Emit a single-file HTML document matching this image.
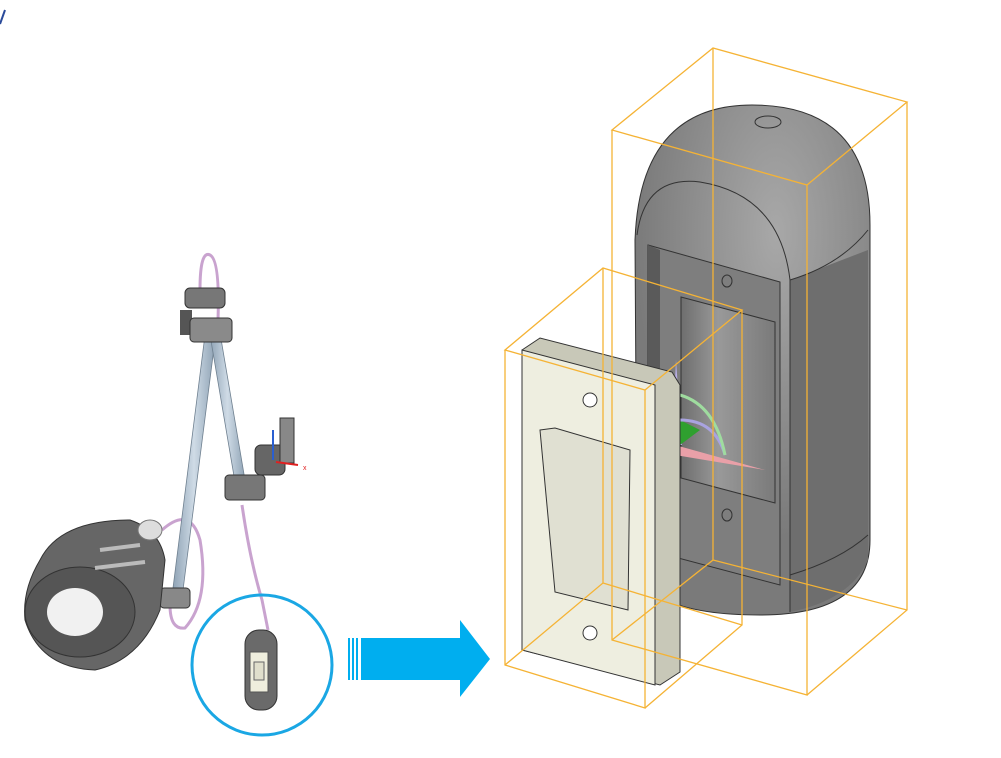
<!DOCTYPE html>
<html><head><meta charset="utf-8"><style>html,body{margin:0;padding:0;background:#fff;width:1001px;height:758px;overflow:hidden}</style></head>
<body>
<svg width="1001" height="758" viewBox="0 0 1001 758" xmlns="http://www.w3.org/2000/svg">
<defs>
<radialGradient id="top" cx="0.6" cy="0.25" r="0.6"><stop offset="0" stop-color="#a8a8a8"/><stop offset="1" stop-color="#7a7a7a"/></radialGradient>
<linearGradient id="win" x1="0" x2="1"><stop offset="0" stop-color="#6e6e6e"/><stop offset="0.4" stop-color="#999"/><stop offset="1" stop-color="#7a7a7a"/></linearGradient>
<linearGradient id="rod" x1="0" x2="1"><stop offset="0" stop-color="#8fa3b5"/><stop offset="0.5" stop-color="#cfdbe6"/><stop offset="1" stop-color="#8fa3b5"/></linearGradient>
</defs>
<path d="M0 24 L5 10" stroke="#2a4a9a" stroke-width="2"/>
<!-- lamp cables -->
<path d="M200 290 Q200 250 210 255 Q220 260 218 320" stroke="#c9a3cf" stroke-width="3" fill="none"/>
<path d="M242 505 Q250 560 262 600 L268 630" stroke="#c9a3cf" stroke-width="3" fill="none"/>
<path d="M162 530 Q190 505 200 540 Q210 600 185 628 Q170 630 170 605" stroke="#c9a3cf" stroke-width="3" fill="none"/>
<!-- rods -->
<path d="M205 335 L215 340 L183 590 L173 588 Z" fill="url(#rod)" stroke="#6f8090" stroke-width="0.8"/>
<path d="M210 335 L220 333 L245 480 L235 482 Z" fill="url(#rod)" stroke="#6f8090" stroke-width="0.8"/>
<!-- clamps -->
<rect x="185" y="288" width="40" height="20" rx="5" fill="#777" stroke="#333"/>
<rect x="180" y="310" width="12" height="25" fill="#555"/>
<rect x="190" y="318" width="42" height="24" rx="4" fill="#8a8a8a" stroke="#333"/>
<rect x="225" y="475" width="40" height="25" rx="4" fill="#777" stroke="#333"/>
<rect x="255" y="445" width="30" height="30" rx="6" fill="#666" stroke="#333"/>
<rect x="280" y="418" width="14" height="45" fill="#888" stroke="#333"/>
<line x1="273" y1="430" x2="273" y2="460" stroke="#2a5fd0" stroke-width="2"/>
<line x1="276" y1="462" x2="298" y2="465" stroke="#e02020" stroke-width="2"/>
<text x="303" y="470" font-family="Liberation Sans,sans-serif" font-size="7" fill="#e02020">x</text>
<rect x="160" y="588" width="30" height="20" rx="4" fill="#888" stroke="#333"/>
<!-- lamp shade -->
<path d="M40 560 Q60 520 130 520 Q160 530 165 560 L160 610 Q140 660 95 670 Q40 668 25 620 Q22 590 40 560 Z" fill="#666" stroke="#333"/>
<ellipse cx="80" cy="612" rx="55" ry="45" fill="#555" stroke="#333"/>
<ellipse cx="75" cy="612" rx="28" ry="24" fill="#f1f1f1"/>
<ellipse cx="150" cy="530" rx="12" ry="10" fill="#ddd" stroke="#777"/>
<path d="M100 550 L140 545 M95 568 L145 562" stroke="#bbb" stroke-width="4"/>
<!-- circle -->
<circle cx="262" cy="665" r="70" fill="none" stroke="#1aa7e4" stroke-width="3"/>
<rect x="245" y="630" width="32" height="80" rx="14" fill="#6a6a6a" stroke="#333"/>
<rect x="250" y="652" width="18" height="40" fill="#efeedd" stroke="#555"/>
<rect x="254" y="662" width="10" height="18" fill="#e0dfcc" stroke="#666"/>
<!-- arrow -->
<rect x="348" y="638" width="2" height="42" fill="#00aeef"/>
<rect x="352" y="638" width="2" height="42" fill="#00aeef"/>
<rect x="356" y="638" width="2" height="42" fill="#00aeef"/>
<path d="M361 638 L460 638 L460 620 L490 659 L460 697 L460 680 L361 680 Z" fill="#00aeef"/>
<!-- capsule -->
<path d="M635 240 Q640 105 752 105 Q870 105 870 225 L870 540 Q870 615 760 615 Q640 615 637 560 Z" fill="url(#top)" stroke="#333"/>
<path d="M790 280 L868 250 L868 560 Q850 600 790 612 Z" fill="#6e6e6e"/>
<path d="M637 235 Q645 175 700 182 Q780 195 790 280 L790 612" fill="none" stroke="#333" stroke-width="1"/>
<path d="M790 280 Q840 265 868 230" fill="none" stroke="#333"/>
<path d="M790 575 Q840 560 868 535" fill="none" stroke="#333"/>
<path d="M648 245 L780 282 L780 585 L648 550 Z" fill="#7e7e7e" stroke="#333"/>
<path d="M648 245 L660 250 L660 560 L648 555 Z" fill="#5a5a5a"/>
<path d="M681 297 L775 322 L775 503 L681 478 Z" fill="url(#win)" stroke="#333"/>
<ellipse cx="727" cy="281" rx="5" ry="6" fill="none" stroke="#333"/>
<ellipse cx="727" cy="515" rx="5" ry="6" fill="none" stroke="#333"/>
<ellipse cx="768" cy="122" rx="13" ry="6" fill="none" stroke="#333"/>
<!-- manipulator -->
<path d="M675 445 L765 470 L675 455 Z" fill="#e9a0a8"/>
<path d="M676 360 L682 445 L672 445 Z" fill="#b8aee6"/>
<path d="M680 420 L700 430 L680 445 Z" fill="#2fa02f"/>
<path d="M680 420 Q715 420 725 455" stroke="#a9a3e0" stroke-width="3" fill="none"/>
<path d="M680 395 Q715 405 725 455" stroke="#9fdc9f" stroke-width="3" fill="none"/>
<!-- switch plate -->
<path d="M522 350 L540 338 L672 372 L680 385 L680 672 L660 685 L522 650 Z" fill="#c8c8b8" stroke="#333"/>
<path d="M522 350 L655 385 L655 685 L522 650 Z" fill="#eeeee0" stroke="#333"/>
<path d="M540 430 L555 428 L630 450 L628 610 L555 592 Z" fill="#e0e0d2" stroke="#333"/>
<circle cx="590" cy="400" r="7" fill="#fff" stroke="#333"/>
<circle cx="590" cy="633" r="7" fill="#fff" stroke="#333"/>
<!-- orange boxes -->
<g stroke="#f5b335" stroke-width="1.3" fill="none">
<path d="M612 130 L713 48 L907 102 L807 185 Z"/>
<path d="M612 130 L612 640 L807 695 L807 185"/>
<path d="M907 102 L907 610 L807 695"/>
<path d="M713 48 L713 560 L612 640 M713 560 L907 610"/>
<path d="M505 350 L603 268 L742 310 L645 390 Z"/>
<path d="M505 350 L505 665 L645 708 L645 390"/>
<path d="M742 310 L742 625 L645 708"/>
<path d="M603 268 L603 583 L505 665 M603 583 L742 625"/>
</g>
</svg>
</body></html>
